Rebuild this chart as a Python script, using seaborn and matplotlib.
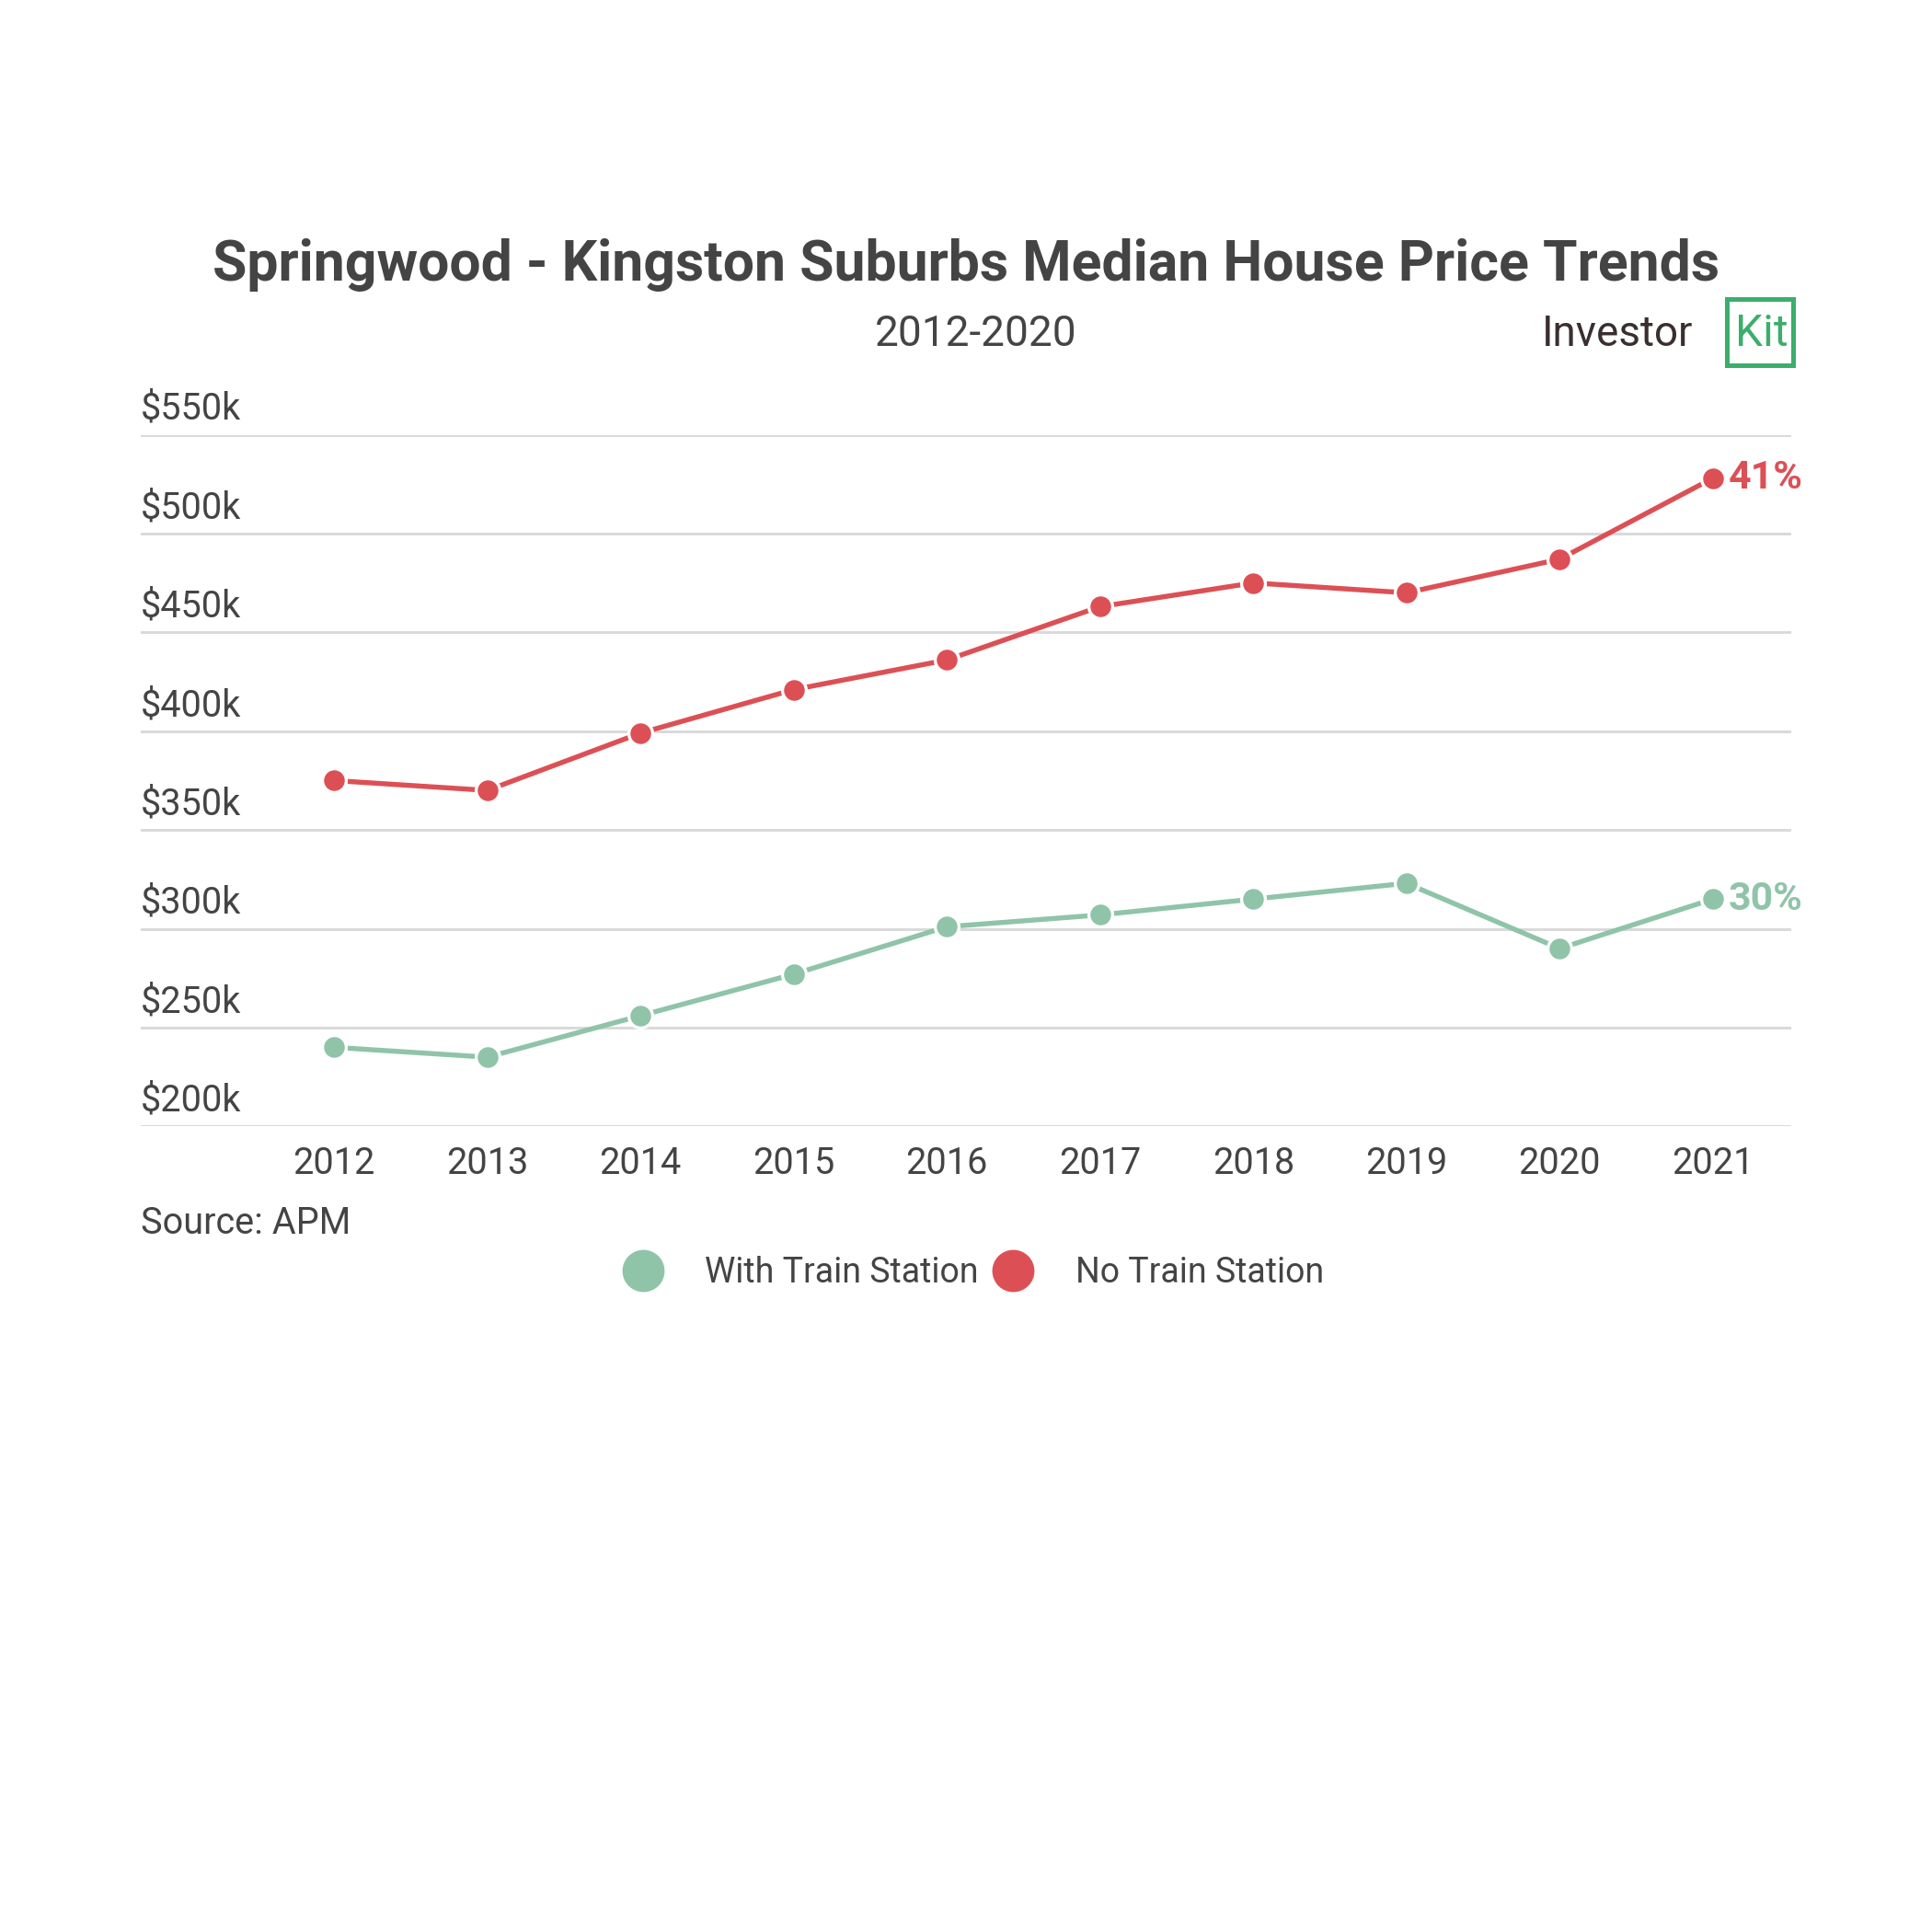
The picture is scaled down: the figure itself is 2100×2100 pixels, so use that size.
import matplotlib
matplotlib.use("Agg")
import matplotlib.pyplot as plt
import seaborn as sns
import pandas as pd
from matplotlib.lines import Line2D
from matplotlib.patches import Rectangle

years = [2012, 2013, 2014, 2015, 2016, 2017, 2018, 2019, 2020, 2021]
no_train = [375, 370, 399, 421, 436, 463, 475, 470, 487, 528]
with_train = [240, 235, 256, 277, 301, 307, 315, 323, 290, 315]
series = ["With Train Station", "No Train Station"]
colors = ["#8fc4a9", "#dc5055"]
yticks = [200, 250, 300, 350, 400, 450, 500, 550]
end_labels = ["30%", "41%"]

df = pd.DataFrame({
    "year": years * 2,
    "price": with_train + no_train,
    "series": [series[0]] * len(years) + [series[1]] * len(years),
})

plt.rcParams["font.family"] = "Roboto"
fig = plt.figure(figsize=(7, 7), dpi=300)
ax = fig.add_axes([0.073, 0.417, 0.854, 0.358])
sns.lineplot(data=df, x="year", y="price", hue="series", palette=dict(zip(series, colors)),
             marker="o", markersize=6.2, markeredgecolor="white", markeredgewidth=0.8,
             linewidth=1.3, legend=False, ax=ax)
ax.set_xlim(2010.74, 2021.51)
ax.set_ylim(200, 550)
ax.set_yticks(yticks)
ax.set_yticklabels([])
ax.tick_params(axis="y", length=0)
ax.set_xticks(years)
ax.set_xticklabels([str(y) for y in years], fontsize=9.5, color="#444444")
ax.tick_params(axis="x", length=0, pad=5)
ax.grid(axis="y", color="#d9d9d9", linewidth=0.7)
ax.grid(axis="x", visible=False)
for s in ax.spines.values():
    s.set_visible(False)
ax.set_xlabel(""); ax.set_ylabel("")
for t in yticks:
    ax.text(0.0, t + 4, f"${t}k", transform=ax.get_yaxis_transform(), fontsize=9.5,
            color="#444444", ha="left", va="bottom")
ax.text(years[-1] + 0.1, with_train[-1], end_labels[0], color=colors[0], fontsize=10.3,
        fontweight="bold", va="center")
ax.text(years[-1] + 0.1, no_train[-1], end_labels[1], color=colors[1], fontsize=10.3,
        fontweight="bold", va="center")

fig.text(0.5, 0.863, "Springwood - Kingston Suburbs Median House Price Trends", ha="center",
         va="center", fontsize=14.6, fontweight="bold", color="#444444")
fig.text(0.505, 0.827, "2012-2020", ha="center", va="center", fontsize=11, color="#444444")
fig.text(0.798, 0.827, "Investor", ha="left", va="center", fontsize=11, color="#3a2e2e")
fig.text(0.912, 0.827, "Kit", ha="center", va="center", fontsize=11.5, color="#3cae6c")
fig.patches.append(Rectangle((0.894, 0.811), 0.034, 0.034, transform=fig.transFigure,
                             fill=False, edgecolor="#3cae6c", linewidth=1.2))
fig.text(0.073, 0.367, "Source: APM", ha="left", va="center", fontsize=9.5, color="#444444")
handles = [Line2D([], [], marker="o", linestyle="", markersize=10, color=c) for c in colors]
fig.legend(handles, series, loc="center", bbox_to_anchor=(0.5, 0.341), ncol=2, frameon=False,
           fontsize=9, labelcolor="#444444", handletextpad=0.8, columnspacing=0.0)
fig.savefig("out.png", dpi=300, facecolor="white")
